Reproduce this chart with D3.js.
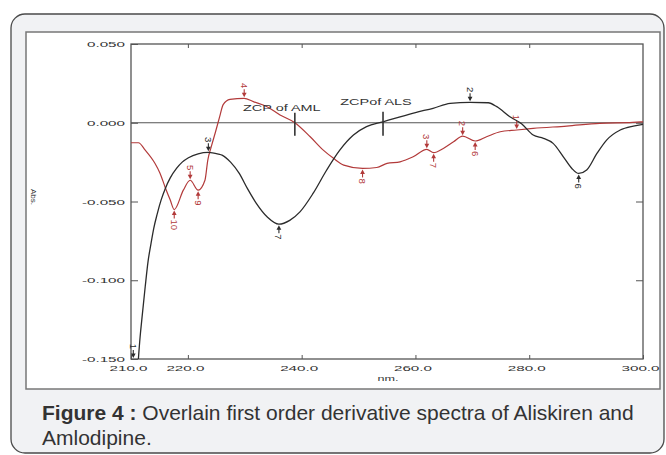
<!DOCTYPE html>
<html>
<head>
<meta charset="utf-8">
<script src="https://cdn.jsdelivr.net/npm/d3@7"></script>
<style>
  body { margin: 0; background: #fff; }
  svg { display: block; }
</style>
</head>
<body>
<div id="chart"></div>
<script>
// axis ticks
const xTicks = [210, 220, 240, 260, 280, 300];
const yTicks = [0.05, 0, -0.05, -0.1, -0.15];

// Aliskiren (black trace)
const alsNm = [211.1, 211.6, 211.9, 212.5, 213.0, 213.5, 214.0, 214.6, 215.3, 216.0, 216.9, 218.0, 219.0, 220.1, 221.8, 223.6, 225.4, 226.0, 227.5, 229.0, 230.5, 232.0, 234.0, 236.0, 237.9, 239.7, 242.0, 244.4, 246.7, 249.1, 251.4, 254.3, 257.3, 260.0, 263.1, 266.1, 269.6, 272.8, 274.3, 276.6, 278.7, 280.7, 282.5, 284.2, 286.0, 287.5, 288.7, 290.1, 291.9, 293.6, 296.0, 298.3, 300.0];
const alsAbs = [-0.160, -0.136, -0.125, -0.104, -0.088, -0.077, -0.067, -0.058, -0.049, -0.042, -0.035, -0.029, -0.025, -0.0222, -0.0197, -0.0188, -0.0199, -0.0205, -0.025, -0.032, -0.042, -0.051, -0.060, -0.0644, -0.062, -0.0566, -0.0449, -0.030, -0.0174, -0.0078, -0.0025, 0.0006, 0.0038, 0.0065, 0.0092, 0.0123, 0.013, 0.0127, 0.0102, 0.0038, -0.0008, -0.0078, -0.0099, -0.0131, -0.0216, -0.029, -0.0322, -0.030, -0.0195, -0.011, -0.0046, -0.0021, -0.001];

// Amlodipine (red trace)
const amlNm = [210.0, 211.3, 212.5, 214.2, 215.1, 216.0, 216.9, 217.6, 219.2, 220.4, 221.8, 223.0, 223.5, 224.1, 224.8, 225.6, 226.2, 227.4, 229.9, 231.5, 233.9, 236.2, 238.8, 241.5, 243.8, 245.6, 247.4, 250.7, 253.2, 255.0, 257.3, 259.6, 262.0, 263.2, 264.9, 266.7, 268.3, 270.5, 272.5, 274.9, 277.8, 280.7, 286.6, 292.4, 298.2, 300.0];
const amlAbs = [-0.0127, -0.0127, -0.0174, -0.0257, -0.032, -0.0409, -0.0491, -0.0551, -0.0428, -0.0365, -0.0428, -0.0365, -0.0237, -0.0153, -0.0065, 0.004, 0.0115, 0.0149, 0.0155, 0.0134, 0.0102, 0.0049, 0.0, -0.0089, -0.0174, -0.0226, -0.0269, -0.029, -0.0284, -0.0258, -0.0248, -0.0216, -0.0169, -0.019, -0.0163, -0.0121, -0.0085, -0.0116, -0.0089, -0.0057, -0.0046, -0.0036, -0.0021, -0.0004, 0.0002, 0.0006];

// peak picks: [nm, abs, label, kind]
const alsPicks = [[210.4, -0.150, "1", "max"], [223.6, -0.0188, "3", "max"], [236.0, -0.0644, "7", "min"], [269.6, 0.013, "2", "max"], [288.7, -0.0322, "6", "min"]];
const amlPicks = [[217.6, -0.0551, "10", "min"], [220.4, -0.0365, "5", "max"], [221.8, -0.0428, "9", "min"], [229.9, 0.0155, "4", "max"], [250.7, -0.029, "8", "min"], [262.0, -0.0169, "3", "max"], [263.2, -0.019, "7", "min"], [268.3, -0.0085, "2", "max"], [270.5, -0.0116, "6", "min"], [277.8, -0.0046, "1", "max"]];

// zero crossing points
const zcpNm = [238.8, 254.3];
const zcpText = ["ZCP of AML", "ZCPof ALS"];

const caption1 = "Figure 4 :";
const caption2 = " Overlain first order derivative spectra of Aliskiren and";
const caption3 = "Amlodipine.";

const width = 666, height = 455;
const plot = { left: 131, right: 643, top: 44, bottom: 359 };
const black = "#2b2b2b", red = "#b23a3a";

const svg = d3.select("#chart").append("svg")
    .attr("width", width)
    .attr("height", height);

// outer card
svg.append("rect")
    .attr("x", 11).attr("y", 14)
    .attr("width", 653).attr("height", 439)
    .attr("rx", 14)
    .attr("fill", "#f1f2f4")
    .attr("stroke", "#4a4a4a")
    .attr("stroke-width", 1.3);

// white figure panel
svg.append("rect")
    .attr("x", 26).attr("y", 32)
    .attr("width", 634).attr("height", 357)
    .attr("fill", "#fff")
    .attr("stroke", "#777")
    .attr("stroke-width", 1.5);

const x = d3.scaleLinear().domain([210, 300]).range([plot.left, plot.right]);
const y = d3.scaleLinear().domain([-0.15, 0.05]).range([plot.bottom, plot.top]);

// stretch small instrument-style labels horizontally
function stretch(sel, k) {
    sel.each(function () {
        const w = this.getComputedTextLength();
        this.setAttribute("textLength", w * k);
        this.setAttribute("lengthAdjust", "spacingAndGlyphs");
    });
}

const tickFont = "'Liberation Sans', Arial, sans-serif";
const fmtY = d => d3.format(".3f")(d).replace("−", "-");

const gx = svg.append("g")
    .attr("transform", `translate(0,${plot.bottom})`)
    .call(d3.axisBottom(x).tickValues(xTicks).tickSize(-4).tickPadding(6).tickFormat(d3.format(".1f")));
const gxt = svg.append("g")
    .attr("transform", `translate(0,${plot.top})`)
    .call(d3.axisTop(x).tickValues(xTicks.slice(1, -1)).tickSize(-4).tickFormat(""));
const gy = svg.append("g")
    .attr("transform", `translate(${plot.left},0)`)
    .call(d3.axisLeft(y).tickValues(yTicks).tickSize(-7).tickPadding(6).tickFormat(fmtY));
const gyr = svg.append("g")
    .attr("transform", `translate(${plot.right},0)`)
    .call(d3.axisRight(y).tickValues(yTicks.slice(1, -1)).tickSize(-7).tickFormat(""));

[gx, gxt, gy, gyr].forEach(g => {
    g.select(".domain").remove();
    g.selectAll("line").attr("stroke", "#555");
    g.selectAll("text")
        .attr("fill", "#333")
        .style("font-family", tickFont)
        .style("font-size", "7.8px");
});
gx.selectAll("text").attr("x", -3);
stretch(gx.selectAll("text"), 1.95);
stretch(gy.selectAll("text"), 1.95);

// plot frame
svg.append("rect")
    .attr("x", plot.left).attr("y", plot.top)
    .attr("width", plot.right - plot.left).attr("height", plot.bottom - plot.top)
    .attr("fill", "none")
    .attr("stroke", "#555")
    .attr("stroke-width", 1.3);

// zero line
svg.append("line")
    .attr("x1", plot.left).attr("x2", plot.right)
    .attr("y1", y(0)).attr("y2", y(0))
    .attr("stroke", "#555")
    .attr("stroke-width", 1);

// axis titles
const nmLabel = svg.append("text")
    .attr("x", 388).attr("y", 381)
    .attr("text-anchor", "middle")
    .attr("fill", "#333")
    .style("font-family", tickFont)
    .style("font-size", "7px")
    .text("nm.");
stretch(nmLabel, 1.8);

svg.append("text")
    .attr("transform", "translate(33,197) rotate(90)")
    .attr("text-anchor", "middle")
    .attr("dominant-baseline", "central")
    .attr("fill", "#333")
    .style("font-family", tickFont)
    .style("font-size", "8px")
    .text("Abs.");

svg.append("clipPath").attr("id", "clip")
    .append("rect")
    .attr("x", plot.left).attr("y", plot.top)
    .attr("width", plot.right - plot.left).attr("height", plot.bottom - plot.top);

const line = d3.line()
    .x(d => x(d[0]))
    .y(d => y(d[1]))
    .curve(d3.curveMonotoneX);

const traces = svg.append("g").attr("clip-path", "url(#clip)");

traces.append("path")
    .datum(d3.zip(amlNm, amlAbs))
    .attr("d", line)
    .attr("fill", "none")
    .attr("stroke", red)
    .attr("stroke-width", 1.2);

traces.append("path")
    .datum(d3.zip(alsNm, alsAbs))
    .attr("d", line)
    .attr("fill", "none")
    .attr("stroke", black)
    .attr("stroke-width", 1.3);

// ZCP markers
zcpNm.forEach((nm, i) => {
    const px = x(nm), py = y(0);
    svg.append("line")
        .attr("x1", px).attr("x2", px)
        .attr("y1", py - (i ? 11 : 10)).attr("y2", py + 13)
        .attr("stroke", "#333")
        .attr("stroke-width", 1.6);
    const t = svg.append("text")
        .attr("x", px - (i ? 7 : 13))
        .attr("y", py - (i ? 18 : 12))
        .attr("text-anchor", "middle")
        .attr("fill", "#333")
        .style("font-family", tickFont)
        .style("font-size", "8.5px")
        .text(zcpText[i]);
    stretch(t, 1.7);
});

// peak pick arrows with rotated numbers
function drawPicks(picks, color) {
    const g = svg.append("g");
    picks.forEach(([nm, v, label, kind]) => {
        const px = x(nm), py = y(v);
        const s = kind === "max" ? -1 : 1;
        g.append("line")
            .attr("x1", px).attr("x2", px)
            .attr("y1", py + s * 4).attr("y2", py + s * 9)
            .attr("stroke", color)
            .attr("stroke-width", 1.1);
        g.append("path")
            .attr("d", `M${px},${py + s * 1}L${px - 2.4},${py + s * 5.5}L${px + 2.4},${py + s * 5.5}Z`)
            .attr("fill", color);
        g.append("text")
            .attr("transform", `translate(${px},${py + s * 10}) rotate(90)`)
            .attr("text-anchor", kind === "max" ? "end" : "start")
            .attr("dominant-baseline", "central")
            .attr("fill", color)
            .style("font-family", tickFont)
            .style("font-size", "9.5px")
            .text(label);
    });
}
drawPicks(amlPicks, red);
drawPicks(alsPicks, black);

// caption
const capFont = "'Liberation Sans', Arial, sans-serif";
const cap = svg.append("text")
    .attr("x", 42).attr("y", 420)
    .attr("fill", "#333")
    .style("font-family", capFont)
    .style("font-size", "21px");
cap.append("tspan").attr("font-weight", "bold").text(caption1);
cap.append("tspan").text(caption2);
svg.append("text")
    .attr("x", 42).attr("y", 445)
    .attr("fill", "#333")
    .style("font-family", capFont)
    .style("font-size", "21px")
    .text(caption3);
</script>
</body>
</html>
